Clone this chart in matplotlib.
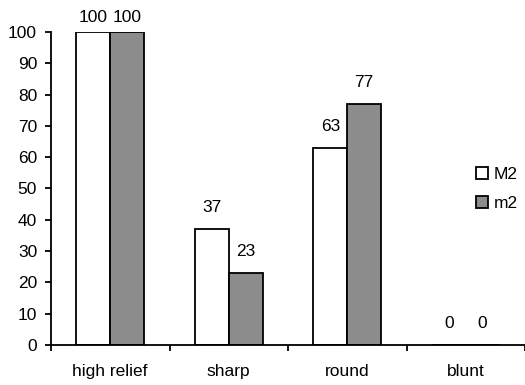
import numpy as np
import matplotlib
import matplotlib.pyplot as plt
from matplotlib.patches import Patch

matplotlib.use("Agg")

categories = ["high relief", "sharp", "round", "blunt"]
series_names = ["M2", "m2"]
values_M2 = [100, 37, 63, 0]
values_m2 = [100, 23, 77, 0]

FS = 12.5
plt.rcParams["font.family"] = ["Liberation Sans", "DejaVu Sans"]
plt.rcParams["font.size"] = FS

fig = plt.figure(figsize=(5.25, 3.85), dpi=100)
ax = fig.add_axes([51 / 525, 40 / 385, 474 / 525, 313 / 385])

x = np.arange(len(categories))
w = 0.285
lw = 1.3

bars1 = ax.bar(x - w / 2, values_M2, w, color="white", edgecolor="black", linewidth=lw)
bars2 = ax.bar(x + w / 2, values_m2, w, color="#8c8c8c", edgecolor="black", linewidth=lw)

# value labels above bars
for bars, vals in [(bars1, values_M2), (bars2, values_m2)]:
    for b, v in zip(bars, vals):
        off = 10 if v < 100 else 5
        ax.annotate(str(v), (b.get_x() + b.get_width() / 2, v),
                    xytext=(0, off), textcoords="offset points",
                    ha="center", va="bottom", fontsize=FS)

ax.set_xlim(-0.5, len(categories) - 0.5)
ax.set_ylim(0, 100)
ax.set_yticks(range(0, 101, 10))

# ticks at category borders, labels centred
ax.set_xticks(np.arange(-0.5, len(categories), 1.0))
ax.set_xticklabels([])
ax.set_xticks(x, minor=True)
ax.set_xticklabels(categories, minor=True)
ax.tick_params(axis="x", which="minor", length=0, pad=14)
ax.tick_params(axis="x", which="major", length=4, width=lw, direction="out")
ax.tick_params(axis="y", length=4, width=lw, direction="out", pad=6)

for s in ["top", "right"]:
    ax.spines[s].set_visible(False)
for s in ["left", "bottom"]:
    ax.spines[s].set_linewidth(lw)

handles = [Patch(facecolor="white", edgecolor="black", linewidth=lw),
           Patch(facecolor="#8c8c8c", edgecolor="black", linewidth=lw)]
fig.legend(handles, series_names, loc="center left",
           bbox_to_anchor=(476 / 525, 1 - 189 / 385), frameon=False,
           handlelength=0.7, handleheight=0.7, handletextpad=0.3,
           labelspacing=0.75, borderpad=0, borderaxespad=0, fontsize=FS)

fig.savefig("out.png", dpi=100)
